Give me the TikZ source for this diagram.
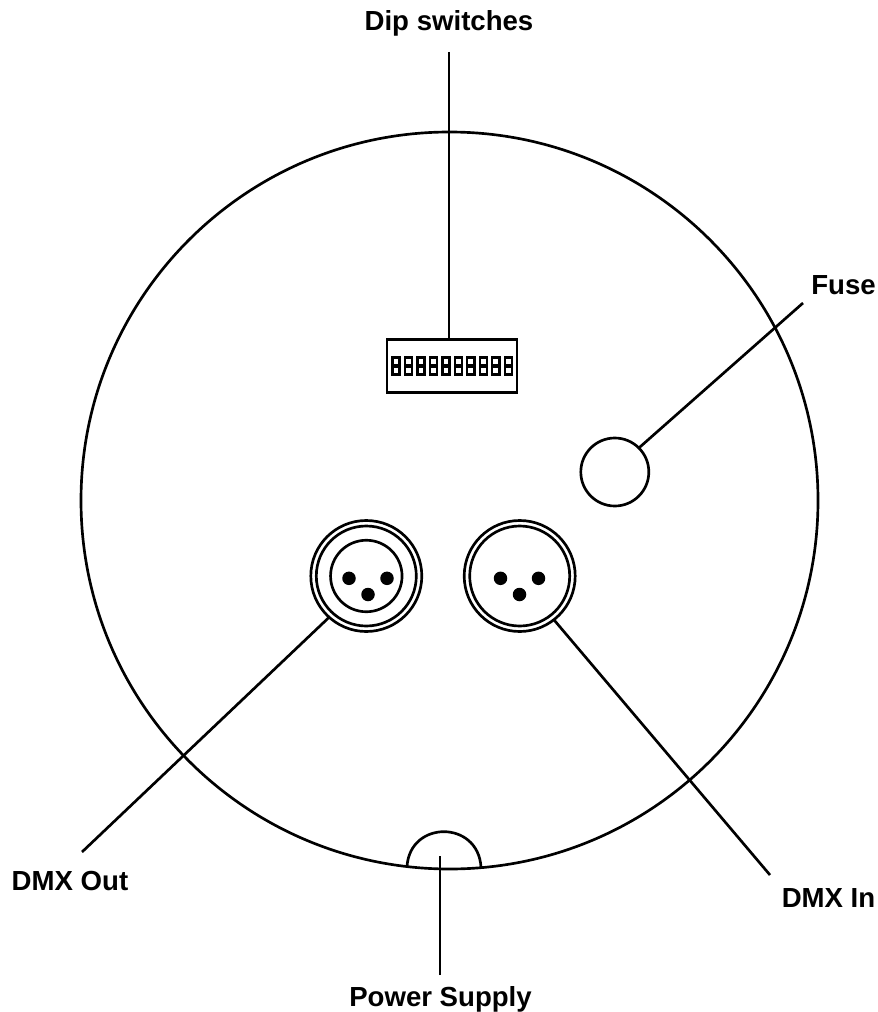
\documentclass[tikz,border=0pt]{standalone}
\usepackage{fontspec}
\setmainfont{Liberation Sans}
\tikzset{
  px/.style={x=0.75pt,y=-0.75pt},
  ln/.style={draw=black,line width=2pt},
  ring/.style={circle,draw=black,line width=2pt,inner sep=0pt,outer sep=0pt,minimum size=#1*0.75pt},
  pin/.style={circle,fill=black,inner sep=0pt,outer sep=0pt,minimum size=13.5*0.75pt},
  lab/.style={font=\fontsize{20.7pt}{24pt}\selectfont\bfseries,text=black,inner sep=0pt},
  sw/.style={fill=black},
  win/.style={fill=white}
}
\begin{document}
\begin{tikzpicture}[px]
\useasboundingbox (0,0) rectangle (877,1012);
% body
\node[ring=737] (body) at (449.5,500.5) {};
% power inlet
\coordinate (psL) at (407,866.5);
\coordinate (psR) at (481,867);
\draw[ln] (psL) .. controls (410,820) and (478,820) .. (psR);
% dip switch
\node[rectangle,draw=black,line width=2pt,inner sep=0pt,outer sep=0pt,minimum width=130*0.75pt,minimum height=53*0.75pt] (dip) at (452,365.7) {};
\foreach \i in {0,...,9}{
  \pgfmathsetmacro{\cx}{396+12.48*\i}
  \fill[sw] (\cx-4.7,356.3) rectangle (\cx+4.7,375.5);
  \fill[win] (\cx-2.4,359.2) rectangle (\cx+2.4,364.2);
  \fill[win] (\cx-2.4,368.4) rectangle (\cx+2.4,373);
}
% fuse
\node[ring=68] (fuse) at (614.8,472) {};
% DMX out
\node[ring=111] (outA) at (366.3,576) {};
\node[ring=100] (outB) at (366.3,576) {};
\node[ring=71.5] (outC) at (366.3,576) {};
\node[pin] (o1) at (349,578.3) {};
\node[pin] (o2) at (387,578.3) {};
\node[pin] (o3) at (368,594.5) {};
% DMX in
\node[ring=111] (inA) at (519.7,576) {};
\node[ring=100] (inB) at (519.7,576) {};
\node[pin] (i1) at (500.5,578.3) {};
\node[pin] (i2) at (538.5,578.3) {};
\node[pin] (i3) at (519.5,594.5) {};
% labels
\node[lab] (tDip) at (449,23.5) {Dip switches};
\node[lab] (tFuse) at (843.5,285.5) {Fuse};
\node[lab] (tOut) at (70,881) {DMX Out};
\node[lab] (tIn) at (828.5,898) {DMX In};
\node[lab] (tPow) at (440.5,999.5) {Power Supply};
% connector ends
\coordinate (eDip) at (449,52);
\coordinate (eDipB) at (449,339.5);
\coordinate (eFuse) at (803,303);
\coordinate (eOut) at (82,852);
\coordinate (eIn) at (770,875);
\coordinate (ePow) at (440,975);
\coordinate (ePowB) at (440,856);
\draw[ln] (eDip) -- (eDipB);
\draw[ln] (eFuse) -- (fuse.45);
\draw[ln] (eOut) -- (outA.228.4);
\draw[ln] (eIn) -- (inA.-52.7);
\draw[ln] (ePow) -- (ePowB);
\end{tikzpicture}
\end{document}
